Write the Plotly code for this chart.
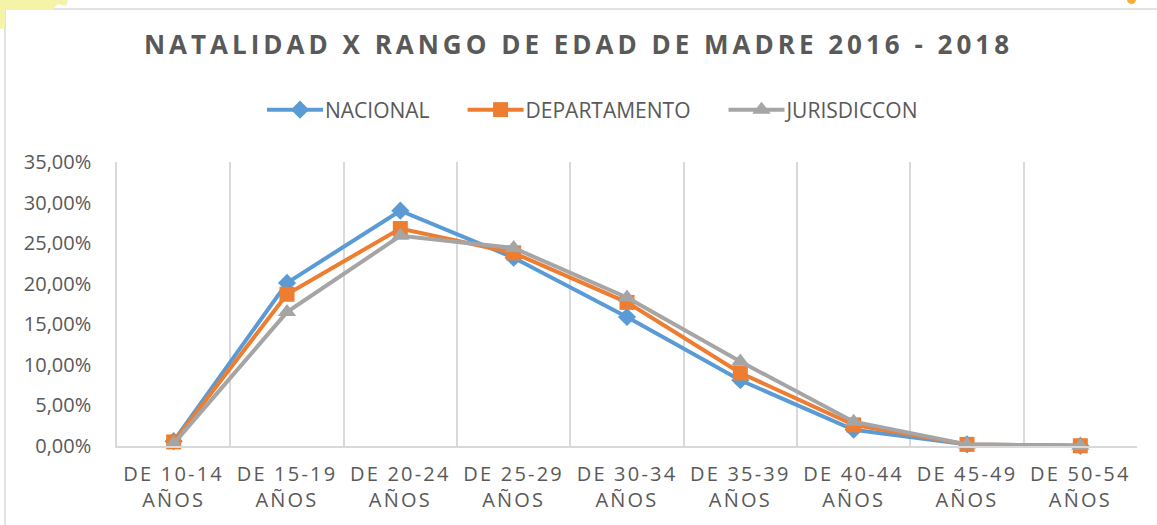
import plotly.graph_objects as go

categories = ["DE 10-14<br>AÑOS", "DE 15-19<br>AÑOS", "DE 20-24<br>AÑOS", "DE 25-29<br>AÑOS",
              "DE 30-34<br>AÑOS", "DE 35-39<br>AÑOS", "DE 40-44<br>AÑOS", "DE 45-49<br>AÑOS",
              "DE 50-54<br>AÑOS"]
nacional = [0.006, 0.201, 0.290, 0.232, 0.159, 0.081, 0.020, 0.002, 0.0002]
departamento = [0.005, 0.187, 0.268, 0.238, 0.177, 0.090, 0.026, 0.002, 0.0003]
jurisdiccon = [0.003, 0.165, 0.259, 0.244, 0.183, 0.104, 0.030, 0.002, 0.0003]

W, H = 1157, 525
L, R, T, B = 117, 20, 162, 79
pw, ph = W - L - R, H - T - B

def px(x):
    return (x - L) / pw

def py(y):
    return (H - B - y) / ph

TXT = "#595959"
FONT = "Open Sans"

fig = go.Figure()
series = [
    ("NACIONAL", nacional, "#5B9BD5", "diamond", 14),
    ("DEPARTAMENTO", departamento, "#ED7D31", "square", 15),
    ("JURISDICCON", jurisdiccon, "#A5A5A5", "triangle-up", 16),
]
for name, vals, col, sym, size in series:
    fig.add_trace(go.Scatter(
        x=categories, y=vals, name=name, mode="lines+markers",
        line=dict(color=col, width=4),
        marker=dict(symbol=sym, size=size, color=col),
        cliponaxis=False,
    ))

shapes = [
    dict(type="rect", xref="paper", yref="paper", x0=px(5), x1=px(1200), y0=py(9), y1=py(560),
         line=dict(color="#D9D9D9", width=1.5), fillcolor="rgba(0,0,0,0)", layer="below"),
    dict(type="path", xref="paper", yref="paper",
         path=f"M {px(0)},{py(0)} L {px(68)},{py(0)} L {px(66)},{py(6)} L {px(58)},{py(4)} "
              f"L {px(52)},{py(10)} L {px(5)},{py(10)} L {px(5)},{py(28)} L {px(0)},{py(29)} Z",
         line=dict(width=0), fillcolor="#F5F3A8", layer="below"),
    dict(type="circle", xref="paper", yref="paper", x0=px(1127), x1=px(1136), y0=py(-5), y1=py(4),
         line=dict(width=0), fillcolor="#F2B134"),
]

fig.update_layout(
    width=W, height=H,
    margin=dict(l=L, r=R, t=T, b=B, autoexpand=False),
    paper_bgcolor="white", plot_bgcolor="white",
    separators=",.",
    font=dict(family=FONT, color=TXT, size=20),
    title=dict(text="<b>NATALIDAD X RANGO DE EDAD DE MADRE 2016 - 2018</b>",
               x=0.5, xref="container", xanchor="center",
               y=1 - 45 / H, yref="container", yanchor="middle",
               font=dict(family=FONT, size=26, color=TXT)),
    showlegend=True,
    legend=dict(orientation="h", x=px(590), xref="paper", xanchor="center",
                y=py(110), yanchor="middle", font=dict(size=21, color=TXT),
                itemwidth=40, traceorder="normal", bgcolor="rgba(0,0,0,0)"),
    xaxis=dict(type="category", range=[-0.5, 8.5], tickson="boundaries",
               showgrid=True, gridcolor="#D9D9D9", gridwidth=1.5,
               showline=True, linecolor="#D9D9D9", linewidth=1.5,
               ticks="outside", ticklen=10, tickcolor="rgba(0,0,0,0)",
               ticklabelstandoff=9,
               tickfont=dict(size=20, color=TXT), tickangle=0, fixedrange=True),
    yaxis=dict(range=[0, 0.35], dtick=0.05, tick0=0, tickformat=".2%",
               showgrid=False, zeroline=False, showline=True,
               linecolor="#D9D9D9", linewidth=1.5,
               ticks="outside", ticklen=20, tickcolor="rgba(0,0,0,0)",
               tickfont=dict(size=20, color=TXT), fixedrange=True),
    shapes=shapes,
)

post = """
document.body.style.margin = '0';
var gd = document.getElementById('{plot_id}');
gd.querySelectorAll('.gtitle').forEach(function(e){e.style.letterSpacing='4px';});
gd.querySelectorAll('.xtick text').forEach(function(e){e.style.letterSpacing='2.2px';});
var legend = gd.querySelector('.legend');
if (legend) {
  legend.querySelectorAll('[clip-path]').forEach(function(e){e.removeAttribute('clip-path');});
  var items = legend.querySelectorAll('.traces');
  var ys = [];
  items.forEach(function(g){
    g.querySelectorAll('.legendlines path').forEach(function(p){p.setAttribute('d','M-8,0h56');});
    var m = /translate\\(([^,]+),\\s*([^)]+)\\)/.exec(g.getAttribute('transform') || '');
    ys.push(m ? parseFloat(m[2]) : 0);
  });
  function place(x0){
    var x = x0;
    items.forEach(function(g, i){
      g.setAttribute('transform', 'translate(' + x + ',' + ys[i] + ')');
      var t = g.querySelector('text.legendtext');
      x += 50 + t.getComputedTextLength() + 46;
    });
  }
  place(0);
  var r = items[0].querySelector('.legendlines path').getBoundingClientRect();
  place(267 - r.left);
}
"""
fig.write_html("out.html", post_script=post, config={"displayModeBar": False})
